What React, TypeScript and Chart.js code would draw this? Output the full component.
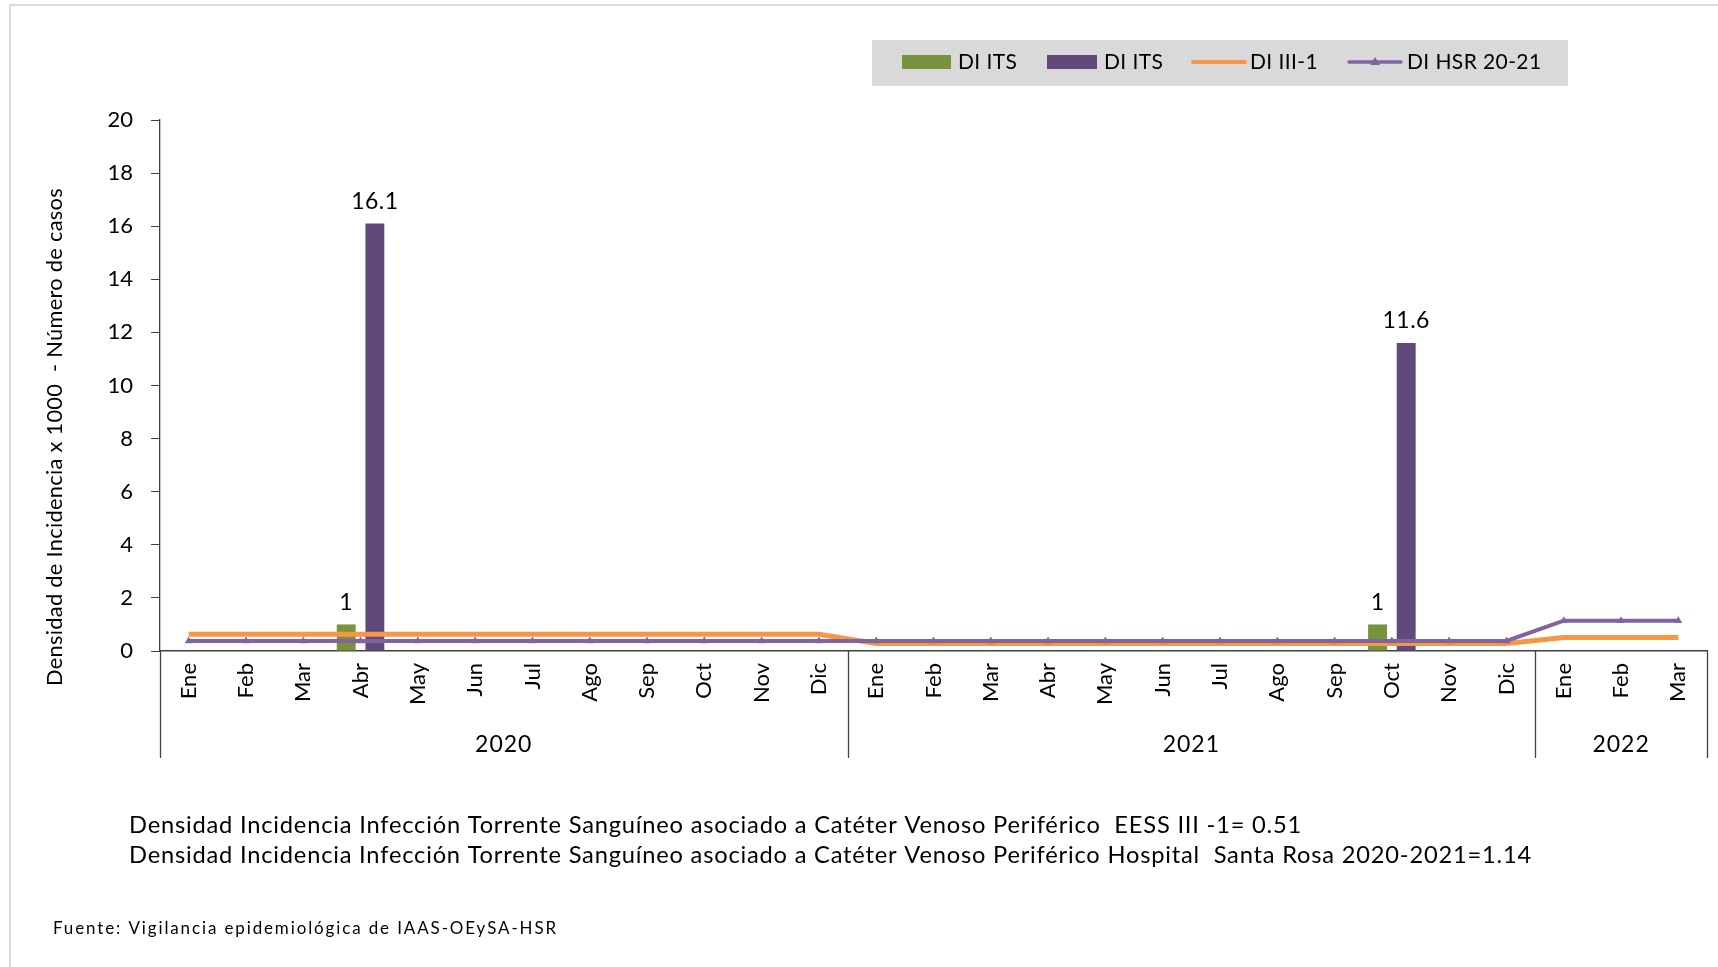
import React, { useEffect, useRef } from "react";
import { Chart, registerables } from "chart.js";

Chart.register(...registerables);

const months = [
  "Ene", "Feb", "Mar", "Abr", "May", "Jun", "Jul", "Ago", "Sep", "Oct", "Nov", "Dic",
  "Ene", "Feb", "Mar", "Abr", "May", "Jun", "Jul", "Ago", "Sep", "Oct", "Nov", "Dic",
  "Ene", "Feb", "Mar",
];
const yearLabels = ["2020", "2021", "2022"];
const yearCounts = [12, 12, 3];

// Número de casos (green bars)
const casos: (number | null)[] = [
  null, null, null, 1, null, null, null, null, null, null, null, null,
  null, null, null, null, null, null, null, null, null, 1, null, null,
  null, null, null,
];
// Densidad de incidencia (purple bars)
const densidad: (number | null)[] = [
  null, null, null, 16.1, null, null, null, null, null, null, null, null,
  null, null, null, null, null, null, null, null, null, 11.6, null, null,
  null, null, null,
];
// DI III-1 (orange line)
const diIII1 = [
  0.63, 0.63, 0.63, 0.63, 0.63, 0.63, 0.63, 0.63, 0.63, 0.63, 0.63, 0.63,
  0.28, 0.28, 0.28, 0.28, 0.28, 0.28, 0.28, 0.28, 0.28, 0.28, 0.28, 0.28,
  0.51, 0.51, 0.51,
];
// DI HSR 20-21 (purple line)
const diHSR = [
  0.38, 0.38, 0.38, 0.38, 0.38, 0.38, 0.38, 0.38, 0.38, 0.38, 0.38, 0.38,
  0.38, 0.38, 0.38, 0.38, 0.38, 0.38, 0.38, 0.38, 0.38, 0.38, 0.38, 0.38,
  1.14, 1.14, 1.14,
];

const legendLabels = ["DI ITS", "DI ITS", "DI III-1", "DI HSR 20-21"];
const yTitle = "Densidad de Incidencia x 1000  - Número de casos";
const note1 =
  "Densidad Incidencia Infección Torrente Sanguíneo asociado a Catéter Venoso Periférico  EESS III -1= 0.51";
const note2 =
  "Densidad Incidencia Infección Torrente Sanguíneo asociado a Catéter Venoso Periférico Hospital  Santa Rosa 2020-2021=1.14";
const source = "Fuente: Vigilancia epidemiológica de IAAS-OEySA-HSR";

const GREEN = "#77933c";
const BAR_PURPLE = "#604a7b";
const ORANGE = "#f79646";
const LINE_PURPLE = "#8064a2";
const AXIS = "#404040";
const FONT = "Lato, 'DejaVu Sans', sans-serif";

const decorPlugin = {
  id: "decor",
  afterDraw(chart: any) {
    const ctx = chart.ctx as any;
    const xs = chart.scales.x;
    const area = chart.chartArea;
    ctx.save();

    // outer border
    ctx.strokeStyle = "#d9d9d9";
    ctx.lineWidth = 2;
    ctx.beginPath();
    ctx.moveTo(10, 967);
    ctx.lineTo(10, 5);
    ctx.lineTo(1718, 5);
    ctx.stroke();

    // year separators and labels
    const n = months.length;
    const w = (xs.right - xs.left) / n;
    ctx.strokeStyle = AXIS;
    ctx.lineWidth = 1.3;
    let idx = 0;
    const bounds = [0];
    yearCounts.forEach((c) => {
      idx += c;
      bounds.push(idx);
    });
    bounds.forEach((b) => {
      const px = Math.round(xs.left + b * w) + 0.5;
      ctx.beginPath();
      ctx.moveTo(px, area.bottom);
      ctx.lineTo(px, area.bottom + 107);
      ctx.stroke();
    });
    ctx.fillStyle = "#000";
    ctx.font = `23px ${FONT}`;
    ctx.letterSpacing = "1px";
    ctx.textAlign = "center";
    ctx.textBaseline = "middle";
    yearLabels.forEach((lab, i) => {
      const cx = xs.left + ((bounds[i] + bounds[i + 1]) / 2) * w;
      ctx.fillText(lab, cx, area.bottom + 94);
    });
    ctx.letterSpacing = "0px";

    // bar data labels
    ctx.font = `23px ${FONT}`;
    ctx.letterSpacing = "0.5px";
    [0, 1].forEach((di) => {
      const meta = chart.getDatasetMeta(di);
      const data = chart.data.datasets[di].data;
      meta.data.forEach((el: any, i: number) => {
        const v = data[i];
        if (v === null || v === undefined) return;
        ctx.fillText(String(v), el.x, el.y - 22);
      });
    });
    ctx.letterSpacing = "0px";

    // legend
    ctx.fillStyle = "#d9d9d9";
    ctx.fillRect(872, 40, 696, 46);
    ctx.font = `21px ${FONT}`;
    ctx.letterSpacing = "0.4px";
    ctx.textAlign = "left";
    ctx.textBaseline = "middle";
    const ly = 62;
    ctx.fillStyle = GREEN;
    ctx.fillRect(902, 55, 49, 14);
    ctx.fillStyle = BAR_PURPLE;
    ctx.fillRect(1047, 55, 50, 14);
    ctx.strokeStyle = ORANGE;
    ctx.lineWidth = 4;
    ctx.lineCap = "round";
    ctx.beginPath();
    ctx.moveTo(1193, ly);
    ctx.lineTo(1245, ly);
    ctx.stroke();
    ctx.strokeStyle = LINE_PURPLE;
    ctx.lineWidth = 3.5;
    ctx.beginPath();
    ctx.moveTo(1349, ly);
    ctx.lineTo(1401, ly);
    ctx.stroke();
    ctx.fillStyle = LINE_PURPLE;
    ctx.beginPath();
    ctx.moveTo(1375, ly - 5);
    ctx.lineTo(1380, ly + 3);
    ctx.lineTo(1370, ly + 3);
    ctx.closePath();
    ctx.fill();
    ctx.fillStyle = "#000";
    ctx.fillText(legendLabels[0], 958, ly);
    ctx.fillText(legendLabels[1], 1104, ly);
    ctx.fillText(legendLabels[2], 1250, ly);
    ctx.fillText(legendLabels[3], 1407, ly);
    ctx.letterSpacing = "0px";

    // y title
    ctx.save();
    ctx.translate(55, 437);
    ctx.rotate(-Math.PI / 2);
    ctx.textAlign = "center";
    ctx.font = `22px ${FONT}`;
    ctx.letterSpacing = "0.3px";
    ctx.fillText(yTitle, 0, 0, 498);
    ctx.restore();

    // notes
    ctx.textAlign = "left";
    ctx.font = `24px ${FONT}`;
    ctx.letterSpacing = "0.8px";
    ctx.fillText(note1, 129, 825, 1173);
    ctx.fillText(note2, 129, 855, 1403);
    ctx.font = `17px ${FONT}`;
    ctx.letterSpacing = "1.9px";
    ctx.fillText(source, 53, 929, 505);
    ctx.letterSpacing = "0px";

    ctx.restore();
  },
};

export default function App() {
  const canvasRef = useRef<HTMLCanvasElement | null>(null);

  useEffect(() => {
    if (!canvasRef.current) return;
    const chart = new Chart(canvasRef.current, {
      type: "bar",
      data: {
        labels: months,
        datasets: [
          {
            type: "bar",
            label: legendLabels[0],
            data: casos,
            backgroundColor: GREEN,
            barPercentage: 0.66,
            categoryPercentage: 1.0,
            order: 2,
          },
          {
            type: "bar",
            label: legendLabels[1],
            data: densidad,
            backgroundColor: BAR_PURPLE,
            barPercentage: 0.66,
            categoryPercentage: 1.0,
            order: 2,
          },
          {
            type: "line",
            label: legendLabels[2],
            data: diIII1,
            borderColor: ORANGE,
            backgroundColor: ORANGE,
            borderWidth: 5,
            pointRadius: 0,
            tension: 0,
            order: 1,
          },
          {
            type: "line",
            label: legendLabels[3],
            data: diHSR,
            borderColor: LINE_PURPLE,
            backgroundColor: LINE_PURPLE,
            borderWidth: 4,
            pointStyle: "triangle",
            pointRadius: 4.5,
            pointBorderWidth: 0,
            tension: 0,
            order: 0,
          },
        ] as any,
      },
      options: {
        animation: false,
        responsive: false,
        maintainAspectRatio: false,
        devicePixelRatio: 1,
        layout: { padding: { top: 120, left: 0, right: 11, bottom: 209 } },
        plugins: {
          legend: { display: false },
          tooltip: { enabled: false },
          title: { display: false },
        },
        scales: {
          x: {
            type: "category",
            grid: { display: false, drawTicks: false },
            border: { display: true, color: AXIS, width: 1.5 },
            ticks: {
              autoSkip: false,
              maxRotation: 90,
              minRotation: 90,
              padding: 12,
              color: "#000",
              font: { family: FONT, size: 22 },
            },
            afterFit: (scale: any) => {
              scale.height = 107;
            },
          },
          y: {
            min: 0,
            max: 20,
            ticks: {
              stepSize: 2,
              padding: 18,
              color: "#000",
              font: { family: FONT, size: 22 },
            },
            grid: {
              drawOnChartArea: false,
              drawTicks: true,
              tickLength: 9,
              color: AXIS,
            },
            border: { display: true, color: AXIS, width: 1.3 },
            afterFit: (scale: any) => {
              scale.width = 160;
            },
          },
        },
      },
      plugins: [decorPlugin],
    });
    return () => chart.destroy();
  }, []);

  return (
    <div
      style={{
        position: "fixed",
        left: 0,
        top: 0,
        width: 1718,
        height: 967,
        background: "#fff",
      }}
    >
      <canvas
        ref={canvasRef}
        width={1718}
        height={967}
        style={{ width: 1718, height: 967, display: "block" }}
      />
    </div>
  );
}
